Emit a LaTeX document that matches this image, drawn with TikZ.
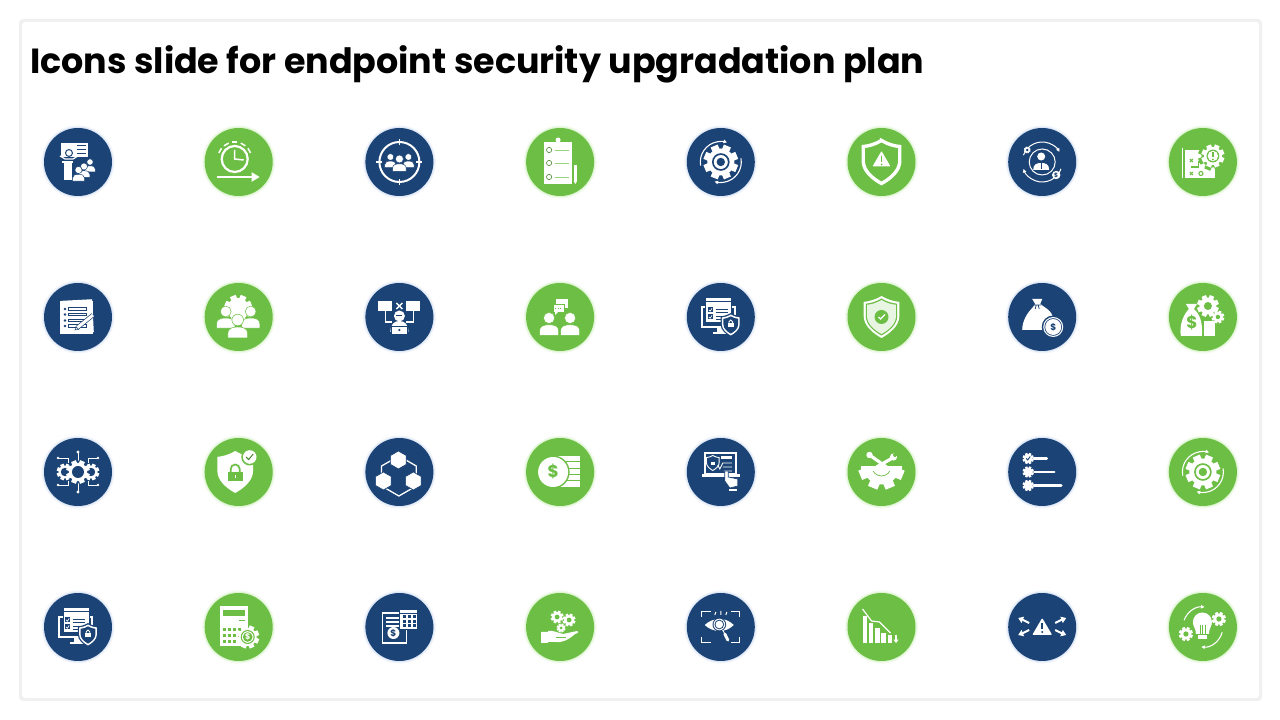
\documentclass[tikz,border=0pt]{standalone}
\usepackage{fontspec}
\setmainfont{Poppins}
\usetikzlibrary{arrows.meta}
\definecolor{navy}{HTML}{1B4375}
\definecolor{leaf}{HTML}{6CBE45}
\definecolor{navyglow}{HTML}{DFE8F6}
\definecolor{leafglow}{HTML}{DFF5D3}
\definecolor{panelline}{HTML}{F0F0F0}
\tikzset{
  disc/.style={circle,minimum size=68pt,inner sep=0pt},
  navydisc/.style={disc,preaction={draw=navyglow!40,line width=5pt},preaction={draw=navyglow,line width=2.4pt},fill=navy},
  leafdisc/.style={disc,preaction={draw=leafglow!40,line width=5pt},preaction={draw=leafglow,line width=2.4pt},fill=leaf},
  sign/.style={inner sep=0pt,font=\bfseries},
  tip/.style={-{Latex[length=3.6pt,width=4pt]}}
}
% small parts used by many icons
\newcommand\gearat[5]{
  \fill[#4] (#1) circle (#2);
  \foreach \a in {0,45,...,315} \fill[#4,shift={(#1)},rotate=\a+22.5] (-.28*#2,0) rectangle (.28*#2,1.28*#2);
  \fill[#5] (#1) circle (#3);
}
\newcommand\person[4]{
  \path[fill=#3,draw=#4,line width=.5pt,shift={(#1)},scale=#2] (0,0) circle (1)
    (-1.7,-3.1) -- (-1.7,-2.3) .. controls (-1.7,-1.5) and (-1,-1.2) .. (0,-1.2) .. controls (1,-1.2) and (1.7,-1.5) .. (1.7,-2.3) -- (1.7,-3.1) -- cycle;
}
\newcommand\shieldat[3]{
  \path[#3,shift={(#1)},scale=#2] (0,1) .. controls (.3,.82) and (.6,.74) .. (.85,.72) -- (.85,.05) .. controls (.85,-.42) and (.4,-.78) .. (0,-1)
    .. controls (-.4,-.78) and (-.85,-.42) .. (-.85,.05) -- (-.85,.72) .. controls (-.6,.74) and (-.3,.82) .. cycle;
}
\newcommand\hexat[3]{
  \path[#3,shift={(#1)}] (90:#2) -- (150:#2) -- (210:#2) -- (270:#2) -- (330:#2) -- (30:#2) -- cycle;
}
\newcommand\iconGearLoop[1]{
  \gearat{0,0}{13.5}{8.8}{white}{#1}
  \fill[white] (0,0) circle (7);
  \fill[#1] (0,0) circle (4.2);
  \draw[white,line width=1.1pt,tip] (190:20.5) arc (190:72:20.5);
  \draw[white,line width=1.1pt,tip] (10:20.5) arc (10:-108:20.5);
}
\newcommand\iconMonitorLock{
  \draw[white,line width=1.8pt] (-19,10) rectangle (14,-10);
  \fill[white] (-4,-10) rectangle (4,-15);
  \fill[white] (-8,-15) rectangle (8,-17);
  \fill[white,draw=navy,line width=1pt] (-15,19) rectangle (11,-5.5);
  \foreach \y in {3,-4} {
    \fill[navy] (-13,\y+6.5) rectangle (-8,\y+1.5);
    \draw[white,line width=.7pt] (-12,\y+4) -- (-10.6,\y+2.8) -- (-8.8,\y+5.6);
    \draw[navy,line width=.9pt] (-5,\y+5) -- (7,\y+5) (-5,\y+2) -- (7,\y+2);
  }
  \draw[navy,line width=.8pt] (-15,15.5) -- (11,15.5);
  \shieldat{10,-8}{12}{fill=navy}
  \shieldat{10,-8}{10.5}{fill=white}
  \shieldat{10,-8}{8.6}{fill=navy}
  \fill[white] (7,-10.5) rectangle (13,-6);
  \draw[white,line width=.8pt] (8.2,-6) -- (8.2,-4.8) arc (180:0:1.8) -- (11.8,-6);
}
\begin{document}
\begin{tikzpicture}[x=1pt,y=1pt,node distance=160.7pt]
\useasboundingbox (0,0) rectangle (1280,720);
\fill[white] (0,0) rectangle (1280,720);
\fill[panelline,rounded corners=4pt] (19,19) rectangle (1262,701);
\fill[white,rounded corners=3pt] (22,22) rectangle (1259,698);
\node[anchor=base west,inner sep=0pt,font=\fontsize{34.9}{40}\selectfont\bfseries] (title) at (30,646) {Icons slide for endpoint security upgradation plan};

% the discs, row by row
\node[navydisc] (c11) at (78,558) {};
\node[leafdisc] (c12) [right of=c11] {};
\node[navydisc] (c13) [right of=c12] {};
\node[leafdisc] (c14) [right of=c13] {};
\node[navydisc] (c15) [right of=c14] {};
\node[leafdisc] (c16) [right of=c15] {};
\node[navydisc] (c17) [right of=c16] {};
\node[leafdisc] (c18) [right of=c17] {};
\node[navydisc] (c21) at (78,403) {};
\node[leafdisc] (c22) [right of=c21] {};
\node[navydisc] (c23) [right of=c22] {};
\node[leafdisc] (c24) [right of=c23] {};
\node[navydisc] (c25) [right of=c24] {};
\node[leafdisc] (c26) [right of=c25] {};
\node[navydisc] (c27) [right of=c26] {};
\node[leafdisc] (c28) [right of=c27] {};
\node[navydisc] (c31) at (78,248) {};
\node[leafdisc] (c32) [right of=c31] {};
\node[navydisc] (c33) [right of=c32] {};
\node[leafdisc] (c34) [right of=c33] {};
\node[navydisc] (c35) [right of=c34] {};
\node[leafdisc] (c36) [right of=c35] {};
\node[navydisc] (c37) [right of=c36] {};
\node[leafdisc] (c38) [right of=c37] {};
\node[navydisc] (c41) at (78,93) {};
\node[leafdisc] (c42) [right of=c41] {};
\node[navydisc] (c43) [right of=c42] {};
\node[leafdisc] (c44) [right of=c43] {};
\node[navydisc] (c45) [right of=c44] {};
\node[leafdisc] (c46) [right of=c45] {};
\node[navydisc] (c47) [right of=c46] {};
\node[leafdisc] (c48) [right of=c47] {};

% presenter
\begin{scope}[shift={(c11.center)}]
\fill[white] (-17,19) rectangle (10,5);
\fill[navy] (-9,9) circle (4);
\fill[white] (-9,9) circle (2.8);
\draw[navy,line width=.9pt] (-1,16.5) -- (8,16.5) (-1,12.5) -- (8,12.5) (-1,8.5) -- (8,8.5);
\draw[white,line width=1.2pt] (-18,6) -- (-13,3) -- (-5,3) -- (0,6);
\fill[white] (-16,1) rectangle (-5,-1);
\fill[white] (-14,-1) rectangle (-6,-18);
\person{12,0}{3.2}{white}{navy}
\person{6,-4.5}{3.5}{white}{navy}
\person{0.5,-8}{3.6}{white}{navy}
\end{scope}

% clock with arrow
\begin{scope}[shift={(c12.center)}]
\draw[white,line width=2.2pt] (-4,3) circle (13);
\foreach \a in {60,90,120,150,30} \draw[white,line width=1.5pt,shift={(-4,3)}] (\a-9:17) arc (\a-9:\a+9:17);
\draw[white,line width=1.5pt] (-4,12) -- (-4,3) -- (5,2);
\draw[white,line width=2.2pt,-{Triangle[length=8pt,width=9pt]}] (-22,-15) -- (21,-15);
\end{scope}

% team in a target
\begin{scope}[shift={(c13.center)}]
\draw[white,line width=2pt] (0,0) circle (20);
\foreach \a in {0,90,180,270} \draw[white,line width=1.6pt] (\a:17) -- (\a:23);
\person{-9,5}{3.4}{white}{navy}
\person{9,5}{3.4}{white}{navy}
\person{0,3}{4}{white}{navy}
\end{scope}

% clipboard
\begin{scope}[shift={(c14.center)}]
\fill[white] (-16,20) rectangle (12,-22);
\fill[white] (-2,22) circle (2.5);
\foreach \y in {12,-1,-15} {
  \draw[leaf!70!black,line width=.6pt] (-11,\y) circle (2.6);
  \draw[leaf!70,line width=.8pt] (-5.5,\y) -- (9,\y);
}
\fill[white] (13.5,-3) rectangle (17,-19);
\fill[white] (13.5,-19) -- (17,-19) -- (15.2,-22) -- cycle;
\end{scope}

% gear with two arrows
\begin{scope}[shift={(c15.center)}]
\iconGearLoop{navy}
\end{scope}

% shield with warning
\begin{scope}[shift={(c16.center)}]
\shieldat{0,0}{21.5}{draw=white,line width=3.4pt,fill=leaf}
\fill[white,rounded corners=.8pt] (-9,-4.5) -- (9,-4.5) -- (0,11) -- cycle;
\draw[leaf,line width=1.7pt] (0,6) -- (0,0);
\fill[leaf] (0,-2.5) circle (1);
\end{scope}

% person in orbit
\begin{scope}[shift={(c17.center)}]
\draw[white,line width=1pt] (0,0) circle (13);
\draw[white,line width=1pt,tip] (160:20) arc (160:30:20);
\draw[white,line width=1pt,tip] (-20:20) arc (-20:-160:20);
\fill[white] (-1,5.5) circle (4);
\fill[white] (-9,-8) .. controls (-9,-2) and (-5,-1) .. (-1,-1) .. controls (3,-1) and (7,-2) .. (7,-8) -- cycle;
\draw[navy,line width=1pt] (-1,-1) -- (-1,-7);
\gearat{-15,12}{2.6}{1.3}{white}{navy}
\fill[white] (14,-13) circle (4.2);
\node[sign,text=navy,font=\bfseries\fontsize{6}{6}\selectfont] (d17) at (14,-13) {\$};
\end{scope}

% map and gear
\begin{scope}[shift={(c18.center)}]
\fill[white] (-21,14) rectangle (-19.5,-16);
\fill[white] (-17.5,12) rectangle (12,-16);
\draw[leaf,line width=1.1pt] (-13,3) -- (-10,0) (-13,0) -- (-10,3) (-13,-10) -- (-10,-13) (-13,-13) -- (-10,-10);
\draw[leaf,line width=1.1pt] (-12,-5) -- (-4,-5) -- (-4,0) -- (0,0);
\draw[leaf,line width=1.1pt] (-2,-11.5) circle (2);
\gearat{10,6}{11.5}{0}{leaf}{leaf}
\gearat{10,6}{9}{6.4}{white}{white}
\fill[leaf] (10,6) circle (6.4);
\fill[white] (10,6) circle (5.2);
\draw[leaf,line width=1.8pt] (10,9.5) -- (10,5);
\fill[leaf] (10,2.5) circle (1);
\end{scope}

% notes and pencil
\begin{scope}[shift={(c21.center)}]
\fill[white,rotate=3] (-16,17) rectangle (15,-16);
\fill[white] (-18,16) rectangle (15,-17);
\foreach \y in {8,2.5,-3.5,-9} {
  \draw[navy,line width=.6pt] (-13,\y) circle (.9);
  \draw[navy,line width=.6pt] (-10,\y+1.2) rectangle (8,\y-1);
}
\draw[navy,line width=4.4pt] (-1,-11) -- (15,2);
\draw[white,line width=3pt] (-1,-11) -- (15,2);
\fill[white,draw=navy,line width=.5pt] (-1.5,-10) -- (-3,-13) -- (.5,-12.5) -- cycle;
\end{scope}

% people and gear
\begin{scope}[shift={(c22.center)}]
\gearat{-.5,8}{11}{0}{white}{white}
\person{-13,5.5}{5.4}{white}{leaf}
\person{12,5.5}{5.4}{white}{leaf}
\person{-1,-3}{5.8}{white}{leaf}
\end{scope}

% hacker and two screens
\begin{scope}[shift={(c23.center)}]
\fill[white] (-21,16) rectangle (-7,6);
\fill[white] (7,16) rectangle (21,6);
\draw[white,line width=1.2pt] (-14,6) -- (-14,-5) -- (-7,-5);
\draw[white,line width=1.2pt] (14,6) -- (14,-5) -- (7,-5);
\draw[white,line width=1.3pt] (-3,14) -- (3,8) (3,14) -- (-3,8);
\fill[white] (0,1) circle (5.5);
\draw[navy,line width=.8pt] (-3,1.5) -- (3,1.5);
\fill[white] (-9,-15) .. controls (-9,-7) and (-5,-4) .. (0,-4) .. controls (5,-4) and (9,-7) .. (9,-15) -- cycle;
\fill[white,draw=navy,line width=.7pt] (-8,-9) rectangle (8,-17);
\fill[navy] (0,-13) circle (1.2);
\end{scope}

% two people talking
\begin{scope}[shift={(c24.center)}]
\person{-11,-1}{5.6}{white}{leaf}
\person{10,-1}{5.6}{white}{leaf}
\fill[white] (-4,18) rectangle (8,9);
\fill[white,draw=leaf,line width=.7pt] (-7,13) rectangle (4,5);
\fill[white] (-5,5) -- (-2,5) -- (-5,2) -- cycle;
\draw[leaf,line width=.8pt,dash pattern=on 1.2pt off 1.2pt] (-5,9) -- (2,9);
\end{scope}

% monitor and lock
\begin{scope}[shift={(c25.center)}]
\iconMonitorLock
\end{scope}

% shield with tick
\begin{scope}[shift={(c26.center)}]
\shieldat{0,0}{21}{fill=white}
\shieldat{0,0}{18.5}{fill=leaf}
\shieldat{0,0}{17}{fill=white,fill opacity=.85}
\fill[leaf] (0,0) circle (7);
\draw[white,line width=1.3pt] (-3,0) -- (-1,-2) -- (3.5,2.5);
\end{scope}

% money bag and coin
\begin{scope}[shift={(c27.center)}]
\fill[white] (-10,18) -- (0,18) -- (-2,13) -- (5,8) .. controls (13,2) and (11,-6) .. (13,-13) -- (-20,-13) .. controls (-20,-4) and (-15,4) .. (-10,9) -- (-7,13) -- cycle;
\draw[navy,line width=.7pt] (-9,12) -- (-1,12) (-6,12) -- (-7,8) (-4,12) -- (-3,8);
\fill[navy] (11,-10) circle (11.5);
\fill[white] (11,-10) circle (10);
\fill[navy] (11,-10) circle (8.8);
\fill[white] (11,-10) circle (8);
\node[sign,text=navy,font=\bfseries\fontsize{9}{9}\selectfont] (d27) at (11,-10) {\$};
\end{scope}

% money bag, coins and gears
\begin{scope}[shift={(c28.center)}]
\fill[white] (-17,13) -- (-6,13) -- (-9,8) .. controls (-3,3) and (0,-6) .. (-1,-19) -- (-22,-19) .. controls (-24,-8) and (-19,3) .. (-14,8) -- cycle;
\node[sign,text=leaf,font=\bfseries\fontsize{17}{17}\selectfont] (d28) at (-11,-6) {\$};
\foreach \y in {-4.5,-9.5,-14.5} \fill[white] (1,\y) rectangle (12,\y-4.2);
\gearat{5,11}{8.5}{4}{white}{leaf}
\gearat{15,0}{5}{2.2}{white}{leaf}
\end{scope}

% circuit with gears
\begin{scope}[shift={(c31.center)}]
\draw[white,line width=.9pt] (0,10) -- (0,20) (0,-10) -- (0,-20);
\fill[white] (0,20) circle (1.6) (0,-20) circle (1.6);
\draw[white,line width=.9pt] (-10,9) -- (-10,14) -- (-20,14) (10,9) -- (10,14) -- (20,14) (-10,-9) -- (-10,-13) -- (-20,-13) (10,-9) -- (10,-13) -- (20,-13);
\fill[white] (-20,14) circle (1.3) (20,14) circle (1.3) (-20,-13) circle (1.3) (20,-13) circle (1.3);
\gearat{-13,0}{6.5}{4.2}{white}{navy}
\gearat{13,0}{6.5}{4.2}{white}{navy}
\fill[navy] (0,0) circle (11.5);
\gearat{0,0}{9.2}{6}{white}{navy}
\end{scope}

% shield, lock and tick
\begin{scope}[shift={(c32.center)}]
\shieldat{-3.5,0}{21}{fill=white}
\fill[leaf] (-11,-9) rectangle (4,0);
\draw[leaf,line width=1.7pt] (-8,0) -- (-8,3) arc (180:0:4.5) -- (1,0);
\draw[white,line width=1pt] (-3.5,-3) -- (-3.5,-6.5);
\fill[leaf] (11,15) circle (8.5);
\fill[white] (11,15) circle (6.8);
\draw[leaf!70!black,line width=1pt] (7.5,15) -- (10,12.5) -- (14.5,18);
\end{scope}

% hexagons
\begin{scope}[shift={(c33.center)}]
\hexat{-.5,-4}{20}{draw=white,line width=1.3pt}
\hexat{-1,12}{9}{fill=white,draw=navy,line width=.7pt}
\hexat{-16,-9}{9}{fill=white,draw=navy,line width=.7pt}
\hexat{14,-9}{9}{fill=white,draw=navy,line width=.7pt}
\end{scope}

% coin and stack
\begin{scope}[shift={(c34.center)}]
\foreach \y in {16,9.7,3.4,-2.9,-9.2} \fill[white] (-3,\y) rectangle (20,\y-5.4);
\fill[leaf] (-7,0) circle (16.5);
\fill[white] (-7,0) circle (15);
\node[sign,text=leaf,font=\bfseries\fontsize{17}{17}\selectfont] (d34) at (-7,0) {\$};
\end{scope}

% laptop and hand
\begin{scope}[shift={(c35.center)}]
\draw[white,line width=1.6pt] (-16,19) rectangle (15,-2);
\fill[white] (-19,-2.5) rectangle (19,-5.5);
\shieldat{-8,9}{7.5}{draw=white,line width=.9pt}
\fill[white] (-10,6.5) rectangle (-6,10);
\fill[white] (0,16) rectangle (11,13);
\draw[white,line width=.8pt] (-3,7) -- (-1,3) -- (2,9) -- (11,9) (2,5) -- (11,5) (3,1) -- (11,1);
\fill[white,draw=navy,line width=.7pt] (4,1) -- (7.5,1) -- (7.5,-5) -- (17,-7) -- (17,-14) -- (9,-16) -- (4,-9) -- cycle;
\fill[white] (8,-17) rectangle (16,-19);
\end{scope}

% tools on half a gear
\begin{scope}[shift={(c36.center)}]
\draw[white,line width=3.2pt] (-12,17) -- (5,5);
\draw[white,line width=3.2pt] (11,14) -- (-5,5);
\fill[white] (-12,17) circle (3.2);
\fill[white] (12,15) circle (3.6);
\fill[leaf] (13.5,17) circle (2);
\begin{scope}
\clip (-30,5.5) rectangle (30,-30);
\gearat{0,5.5}{18}{0}{white}{white}
\draw[leaf,line width=.7pt] (0,5.5) circle (9.5);
\end{scope}
\fill[white] (-20.5,5.5) rectangle (20.5,1);
\end{scope}

% list with gears
\begin{scope}[shift={(c37.center)}]
\foreach \y/\w in {13.5/4.5,0/12,-13.5/19} {
  \gearat{-14,\y}{4.4}{0}{white}{white}
  \draw[white,line width=2.6pt,line cap=round] (-8,\y) -- (\w,\y);
}
\draw[navy,line width=.9pt] (-16,13.5) -- (-14.5,12) -- (-12,15.5);
\end{scope}

% gear with two arrows again
\begin{scope}[shift={(c38.center)}]
\iconGearLoop{leaf}
\end{scope}

% monitor and lock again
\begin{scope}[shift={(c41.center)}]
\iconMonitorLock
\end{scope}

% calculator
\begin{scope}[shift={(c42.center)}]
\fill[white] (-19,21) rectangle (9,-19);
\fill[leaf] (-16,16.5) rectangle (6,11);
\draw[leaf,line width=1pt] (0,6) -- (6,6);
\foreach \y in {-1,-7,-13} \foreach \x in {-16,-11,-6,-1} \fill[leaf] (\x,\y) rectangle (\x+3,\y-2.6);
\gearat{9,-10}{9}{7}{white}{leaf}
\fill[white] (9,-10) circle (5.8);
\fill[leaf] (9,-10) circle (4.8);
\node[sign,text=white,font=\bfseries\fontsize{8}{8}\selectfont] (d42) at (9,-10) {\$};
\end{scope}

% document and calculator
\begin{scope}[shift={(c43.center)}]
\draw[white,line width=1.6pt] (-17,14) rectangle (7,-16);
\draw[white,line width=1.1pt] (-13,9) -- (2,9) (-13,5) -- (2,5) (-13,1) -- (2,1);
\fill[white] (-6,-6) circle (6);
\node[sign,text=navy,font=\bfseries\fontsize{9}{9}\selectfont] (d43) at (-6,-6) {\$};
\fill[navy] (0,18) rectangle (19,-3);
\fill[white] (1,17) rectangle (18,-2);
\foreach \y in {9,4,0} \foreach \x in {4,9,14} \fill[navy] (\x,\y) rectangle (\x+2.8,\y+3);
\draw[navy,line width=.8pt] (1,13.5) -- (18,13.5);
\end{scope}

% hand holding gears
\begin{scope}[shift={(c44.center)}]
\gearat{-3,10}{5}{2.4}{white}{leaf}
\gearat{9,7}{5}{2.4}{white}{leaf}
\gearat{1,-1}{3.5}{1.5}{white}{leaf}
\fill[white] (-19,-5) -- (-12,-5) -- (-12,-4) .. controls (-7,-3) and (-2,-6) .. (3,-7) -- (17,-4) .. controls (19,-4) and (19,-6) .. (15,-7) .. controls (8,-13) and (2,-16) .. (-5,-15) -- (-12,-15) -- (-12,-16) -- (-19,-16) -- cycle;
\draw[leaf,line width=.6pt] (-4,-10) -- (6,-10);
\end{scope}

% eye and magnifier
\begin{scope}[shift={(c45.center)}]
\draw[white,line width=.9pt] (-19,10) -- (-19,16) -- (-10,16) (10,16) -- (19,16) -- (19,10) (-19,-10) -- (-19,-15) -- (-10,-15) (10,-15) -- (19,-15) -- (19,-10);
\fill[white] (-16,2) .. controls (-9,9) and (4,11) .. (13,2) .. controls (4,-7) and (-9,-5) .. cycle;
\fill[navy] (-1.5,2.5) circle (6.8);
\fill[white] (-1.5,2.5) circle (5.8);
\fill[navy] (-1.5,2.5) circle (4.8);
\fill[white] (-1.5,2.5) circle (3.8);
\draw[white,line width=1pt] (2,-3) -- (4,-7);
\draw[white,line width=3pt,line cap=round] (4,-7) -- (7,-13);
\draw[white,line width=1pt] (-6,12) -- (-5,15) (0,12) -- (0,16) (5,12) -- (6,15);
\end{scope}

% falling chart
\begin{scope}[shift={(c46.center)}]
\fill[white] (-19,11) rectangle (-15,-16);
\fill[white] (-13,3.5) rectangle (-8.5,-16);
\fill[white] (-6.5,-1.5) rectangle (-2,-16);
\fill[white] (-.5,-6) rectangle (4,-16);
\fill[white] (6,-8.5) rectangle (10,-16);
\draw[white,line width=1.2pt] (-19,18) -- (-10,6) -- (-2,5) -- (9,-6);
\draw[white,line width=1.2pt,-{Triangle[length=3.4pt,width=5pt]}] (14.5,-8) -- (14.5,-16);
\end{scope}

% warning with four arrows
\begin{scope}[shift={(c47.center)}]
\fill[white,rounded corners=1pt] (-10,-8) -- (10,-8) -- (0,9) -- cycle;
\draw[navy,line width=1.8pt] (0,4) -- (0,-2);
\fill[navy] (0,-5) circle (1.1);
\draw[white,line width=2pt,-{Triangle[length=5pt,width=6.5pt]}] (-13,4) -- (-19,7) -- (-24,9);
\draw[white,line width=2pt,-{Triangle[length=5pt,width=6.5pt]}] (13,4) -- (19,7) -- (24,9);
\draw[white,line width=2pt,-{Triangle[length=5pt,width=6.5pt]}] (-13,-3) -- (-19,-6) -- (-24,-8);
\draw[white,line width=2pt,-{Triangle[length=5pt,width=6.5pt]}] (13,-3) -- (19,-6) -- (24,-8);
\end{scope}

% bulb, gears and arrows
\begin{scope}[shift={(c48.center)}]
\fill[white] (-7,-7) .. controls (-7,-1) and (-10,0) .. (-10,5) arc (180:0:9.5) .. controls (9,0) and (6,-1) .. (6,-7) -- cycle;
\fill[white] (-5,-8) rectangle (4,-12);
\draw[leaf,line width=.6pt] (-3,-7) -- (-3,2) (-.5,-7) -- (-.5,2) (2,-7) -- (2,2);
\draw[white,line width=1.1pt,tip] (160:20) arc (160:85:20);
\draw[white,line width=1.1pt,tip] (-15:20) arc (-15:-95:20);
\gearat{16,8}{5.5}{2.6}{white}{leaf}
\gearat{-17,-7}{5.5}{2.6}{white}{leaf}
\end{scope}
\end{tikzpicture}
\end{document}
